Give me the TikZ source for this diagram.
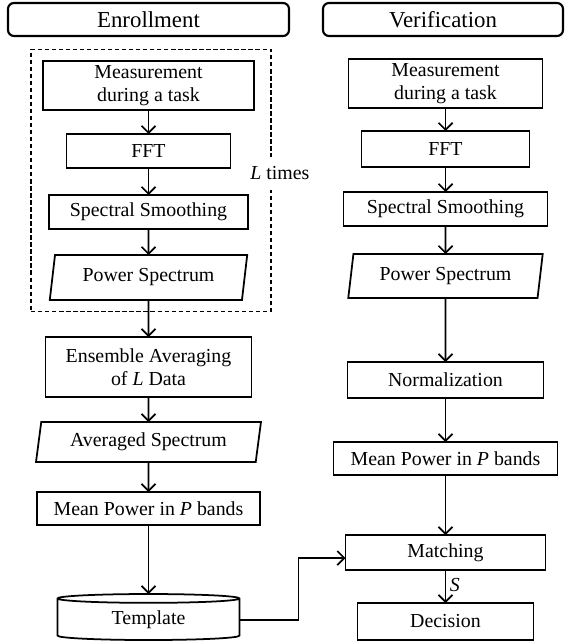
\documentclass[tikz,border=0pt]{standalone}
\usepackage{fontspec}
\setmainfont{Liberation Serif}
\usetikzlibrary{shapes.geometric, arrows.meta, positioning, fit, calc}

\begin{document}
\begin{tikzpicture}[
    font=\fontsize{11.3}{13}\selectfont,
    % Define specific node styles
    head_node/.style={rectangle, rounded corners=0.12cm, draw=black, line width=1.2pt, minimum height=0.66cm, inner sep=0pt, outer sep=0pt, font=\fontsize{13}{15}\selectfont},
    step_node/.style={rectangle, draw=black, line width=1pt, align=center, minimum height=0.68cm, inner sep=0pt, outer sep=0pt},
    data_node/.style={trapezium, trapezium left angle=78, trapezium right angle=102, trapezium stretches=true, draw=black, line width=1pt, align=center, inner sep=0pt, outer sep=0pt},
    store_node/.style={cylinder, shape border rotate=90, aspect=0.12, draw=black, line width=1pt, inner sep=0pt, outer sep=0pt},
    loop_node/.style={rectangle, draw=black, dash pattern=on 2.5pt off 1.5pt, line width=1pt},
    arrow/.style={-{Straight Barb[length=1.4mm, width=2.8mm]}, line width=1pt, draw=black},
]
\useasboundingbox (0,0) rectangle (11.32,-12.88);

% Headers
\node[head_node, minimum width=5.62cm] (ench) at (2.97,-0.39) {Enrollment};
\node[head_node, minimum width=4.8cm] (verh) at (8.86,-0.39) {Verification};

% Enrollment column (top to bottom)
\node[step_node, below=0.5cm of ench, minimum width=4.22cm, minimum height=0.98cm] (meas1) {Measurement\\during a task};
\node[step_node, below=0.48cm of meas1, minimum width=3.28cm] (fft1) {FFT};
\node[step_node, below=0.54cm of fft1, minimum width=3.98cm] (smooth1) {Spectral Smoothing};
\node[data_node, below=0.52cm of smooth1, minimum width=3.96cm, minimum height=0.9cm] (pow1) {Power Spectrum};
\node[step_node, below=0.74cm of pow1, minimum width=4.12cm, minimum height=1.2cm] (ens) {Ensemble Averaging\\of \textit{L} Data};
\node[data_node, below=0.5cm of ens, minimum width=4.54cm, minimum height=0.8cm] (avg) {Averaged Spectrum};
\node[step_node, below=0.6cm of avg, minimum width=4.46cm, minimum height=0.66cm] (mean1) {Mean Power in \textit{P} bands};
\node[store_node, below=1.38cm of mean1, minimum width=3.64cm, minimum height=0.92cm] (tmpl) {Template};

% Repeated part
\node[loop_node, fit=(meas1)(pow1), inner xsep=0.29cm, inner ysep=0.23cm, xshift=0.05cm] (loop) {};
\node[fill=white, inner xsep=1pt, inner ysep=0.2cm] (ltimes) at ($(loop.east)+(0.16,0.14)$) {\textit{L} times};

% Verification column (top to bottom)
\node[step_node, below=0.46cm of verh, xshift=0.05cm, minimum width=3.88cm, minimum height=0.98cm] (meas2) {Measurement\\during a task};
\node[step_node, below=0.46cm of meas2, minimum width=3.36cm, minimum height=0.72cm] (fft2) {FFT};
\node[step_node, below=0.5cm of fft2, minimum width=4.08cm] (smooth2) {Spectral Smoothing};
\node[data_node, below=0.56cm of smooth2, minimum width=3.9cm, minimum height=0.88cm] (pow2) {Power Spectrum};
\node[step_node, below=1.28cm of pow2, minimum width=3.92cm, minimum height=0.72cm] (norm) {Normalization};
\node[step_node, below=0.88cm of norm, minimum width=4.48cm, minimum height=0.66cm] (mean2) {Mean Power in \textit{P} bands};
\node[step_node, below=1.2cm of mean2, minimum width=4.0cm, minimum height=0.7cm] (match) {Matching};
\node[step_node, below=0.66cm of match, minimum width=3.52cm, minimum height=0.74cm] (dec) {Decision};

% Connections
\draw[arrow] (meas1) -- (fft1);
\draw[arrow] (fft1) -- (smooth1);
\draw[arrow] (smooth1) -- (pow1);
\draw[arrow] (pow1) -- (ens);
\draw[arrow] (ens) -- (avg);
\draw[arrow] (avg) -- (mean1);
\draw[arrow] (mean1) -- (tmpl);

\draw[arrow] (meas2) -- (fft2);
\draw[arrow] (fft2) -- (smooth2);
\draw[arrow] (smooth2) -- (pow2);
\draw[arrow] (pow2) -- (norm);
\draw[arrow] (norm) -- (mean2);
\draw[arrow] (mean2) -- (match);
\draw[arrow] (match) -- node[right, pos=0.45, inner sep=2pt] (slabel) {\textit{S}} (dec);

\draw[arrow] (tmpl.east) -- ++(1.18,0) |- ($(match.west)+(0,-0.11)$);

\end{tikzpicture}
\end{document}
